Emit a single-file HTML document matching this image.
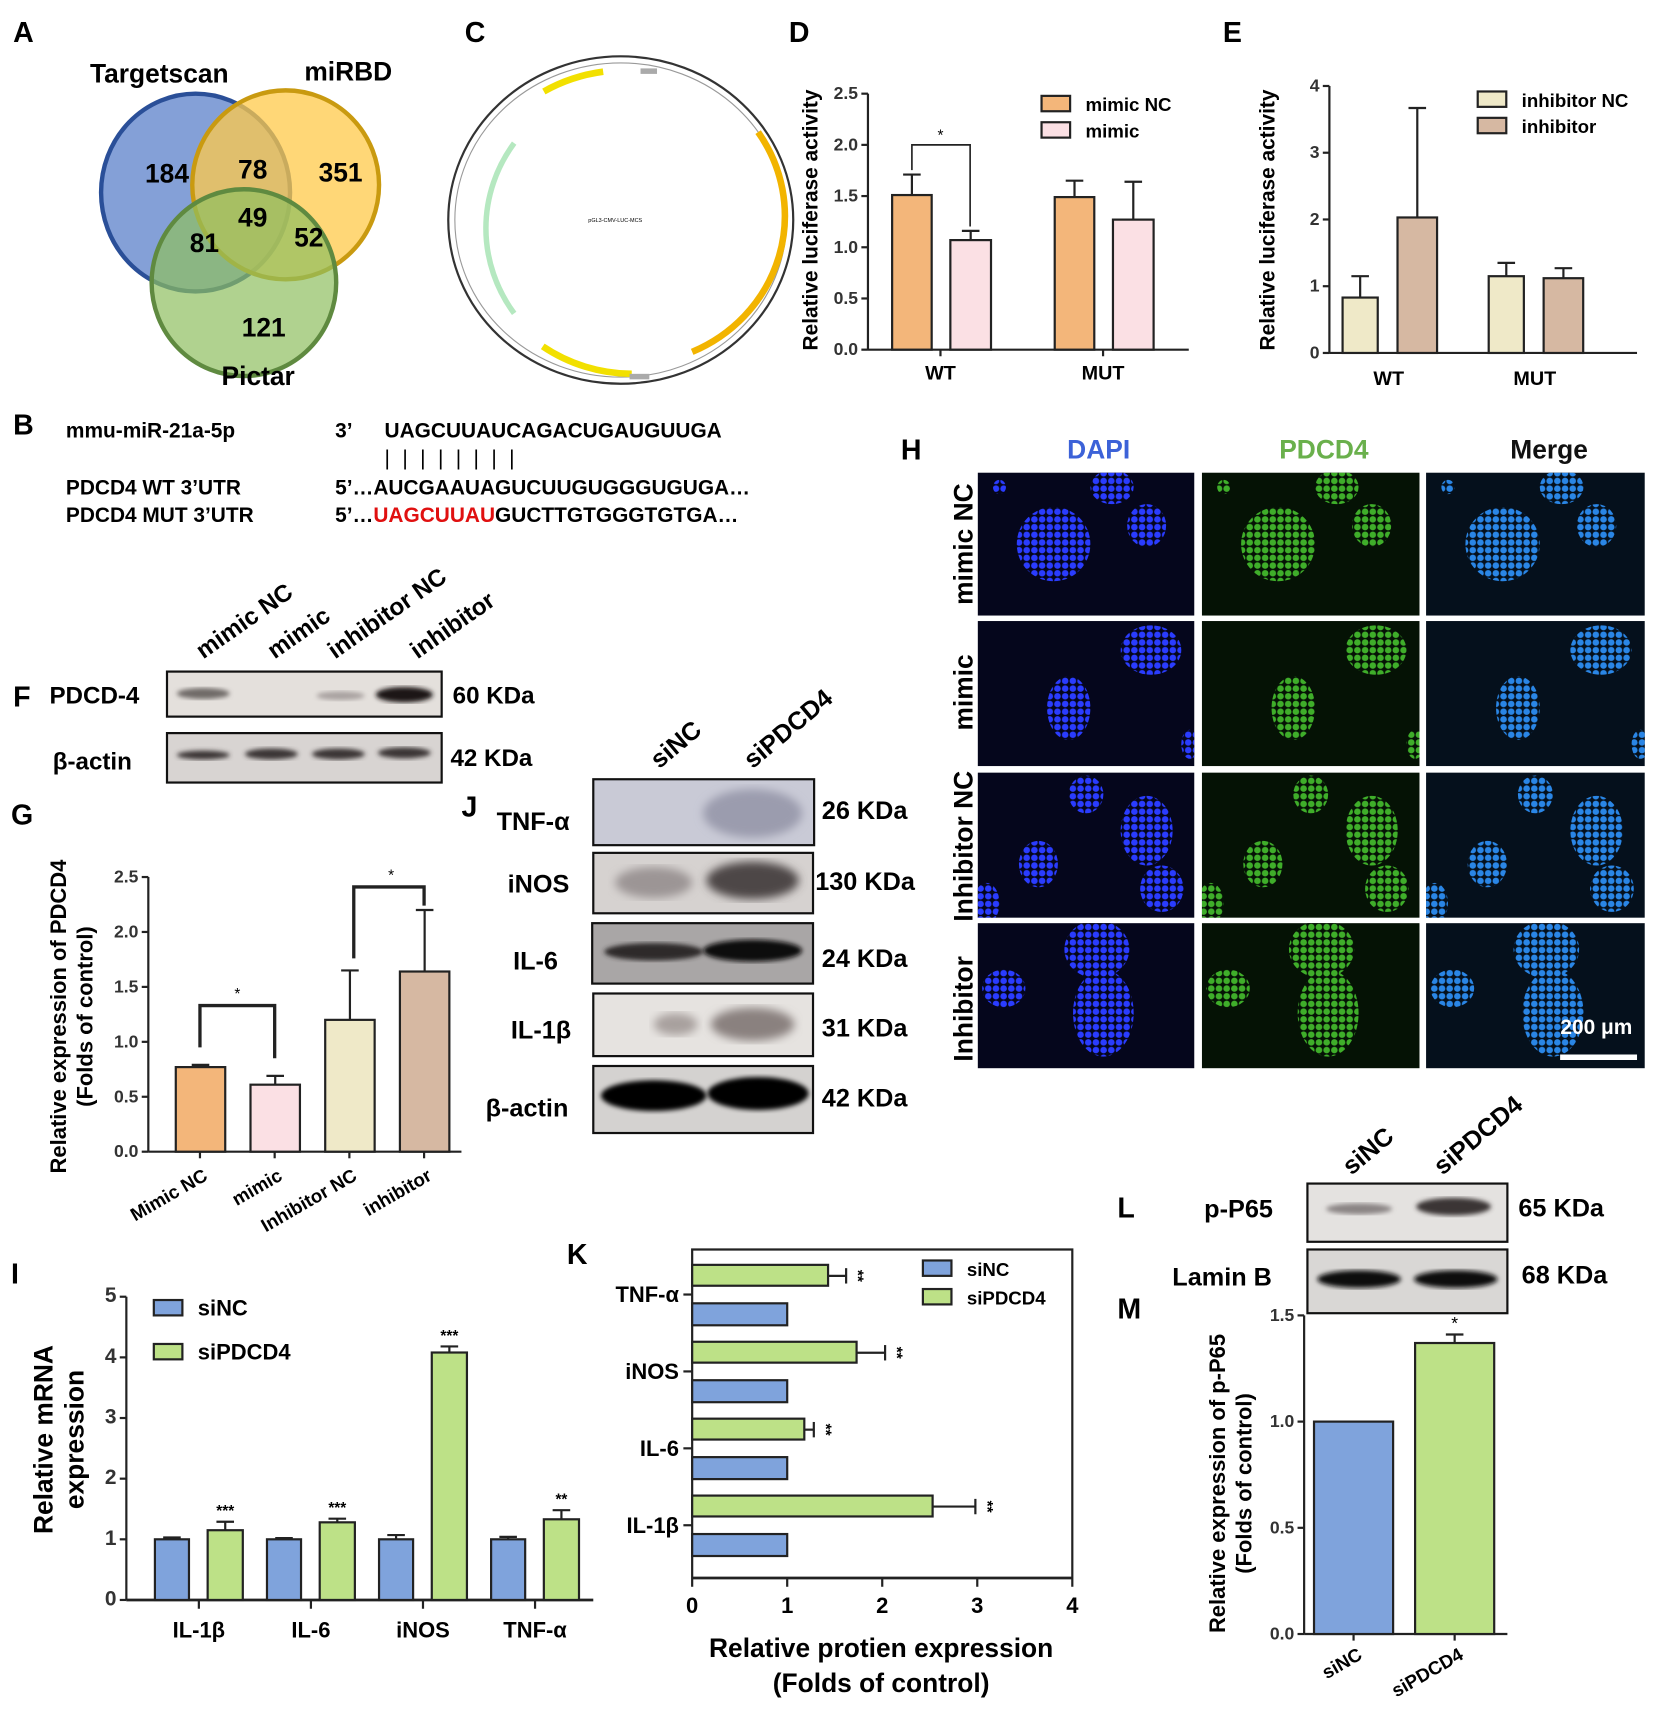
<!DOCTYPE html>
<html><head><meta charset="utf-8">
<style>
html,body{margin:0;padding:0;background:#fff;}
svg{display:block;font-family:"Liberation Sans",Arial,sans-serif;}
.b{font-weight:bold;}
</style></head>
<body>
<svg id="fig" width="1659" height="1720" viewBox="0 0 1510 1565" xmlns="http://www.w3.org/2000/svg">
<defs>
<filter id="blur2"><feGaussianBlur stdDeviation="2.2"/></filter>
<filter id="blur4"><feGaussianBlur stdDeviation="4"/></filter>
<pattern id="pDapi" width="7" height="7" patternUnits="userSpaceOnUse"><rect width="7" height="7" fill="#05061c"/><circle cx="3.5" cy="3.5" r="3" fill="#2a3cff"/></pattern>
<pattern id="pGfp" width="7" height="7" patternUnits="userSpaceOnUse"><rect width="7" height="7" fill="#051205"/><circle cx="3.5" cy="3.5" r="3" fill="#3fae2a"/></pattern>
<pattern id="pMrg" width="7" height="7" patternUnits="userSpaceOnUse"><rect width="7" height="7" fill="#05101c"/><circle cx="3.5" cy="3.5" r="3" fill="#2a86e6"/></pattern>
</defs>

<g class="b" font-size="26">
<text x="12" y="38">A</text><text x="423" y="38">C</text><text x="718" y="38">D</text><text x="1113" y="38">E</text>
<text x="12" y="395">B</text><text x="12" y="643">F</text><text x="10" y="750">G</text><text x="420" y="743">J</text>
<text x="820" y="418">H</text><text x="10" y="1168">I</text><text x="516" y="1150">K</text><text x="1017" y="1108">L</text><text x="1017" y="1200">M</text>
</g>

<g>
<ellipse cx="178" cy="175" rx="86" ry="90" fill="#6f8fd0" fill-opacity="0.85" stroke="#2a4f98" stroke-width="4"/>
<ellipse cx="260" cy="168" rx="85" ry="86" fill="#ffc94a" fill-opacity="0.75" stroke="#c99a10" stroke-width="4"/>
<ellipse cx="222" cy="257" rx="84" ry="85" fill="#8fbf5f" fill-opacity="0.7" stroke="#5f8a40" stroke-width="4"/>
<g class="b" font-size="24" text-anchor="middle">
<text x="145" y="75">Targetscan</text><text x="317" y="73">miRBD</text><text x="235" y="350">Pictar</text>
<text x="152" y="166">184</text><text x="230" y="162">78</text><text x="310" y="165">351</text>
<text x="230" y="206">49</text><text x="186" y="229">81</text><text x="281" y="224">52</text><text x="240" y="306">121</text>
</g></g>

<g>
<ellipse cx="565" cy="200" rx="157" ry="149" fill="none" stroke="#333" stroke-width="2"/>
<ellipse cx="565" cy="200" rx="151" ry="143" fill="none" stroke="#999" stroke-width="1"/>
<path d="M 495 83 A 145 137 0 0 1 549 65" stroke="#f2e000" stroke-width="6" fill="none"/>
<path d="M 690 120 A 140 135 0 0 1 630 320" stroke="#f2b400" stroke-width="6" fill="none"/>
<path d="M 494 315 A 142 135 0 0 0 575 340" stroke="#f2e000" stroke-width="6" fill="none"/>
<path d="M 468 130 A 142 135 0 0 0 468 285" stroke="#b5e8c0" stroke-width="5" fill="none"/>
<rect x="583" y="62" width="15" height="5" fill="#aaa"/><rect x="573" y="340" width="18" height="5" fill="#aaa"/>
<text x="560" y="202" font-size="5" text-anchor="middle">pGL3-CMV-LUC-MCS</text>
</g>

<g class="b" font-size="19">
<text x="60" y="398">mmu-miR-21a-5p</text><text x="305" y="398">3’</text><text x="350" y="398">UAGCUUAUCAGACUGAUGUUGA</text>
<text x="350" y="423" font-weight="normal" letter-spacing="3">| | | | | | | |</text>
<text x="60" y="450">PDCD4   WT   3’UTR</text><text x="305" y="450">5’…AUCGAAUAGUCUUGUGGGUGUGA…</text>
<text x="60" y="475">PDCD4   MUT  3’UTR</text><text x="305" y="475">5’…<tspan fill="#e01010">UAGCUUAU</tspan>GUCTTGTGGGTGTGA…</text>
</g>

<g>
<g class="b" font-size="22">
<text transform="translate(185,600) rotate(-35)">mimic NC</text>
<text transform="translate(250,600) rotate(-35)">mimic</text>
<text transform="translate(305,600) rotate(-35)">inhibitor NC</text>
<text transform="translate(380,600) rotate(-35)">inhibitor</text>
<text x="45" y="640">PDCD-4</text><text x="48" y="700">β-actin</text>
<text x="412" y="640">60 KDa</text><text x="410" y="697">42 KDa</text>
</g>
<rect x="152" y="611" width="250" height="41" fill="#e4e0dc" stroke="#111" stroke-width="2"/>
<ellipse cx="185" cy="631" rx="24" ry="5" fill="#706a68" filter="url(#blur2)"/>
<ellipse cx="310" cy="633" rx="22" ry="4" fill="#a9a2a0" filter="url(#blur2)"/>
<ellipse cx="368" cy="632" rx="26" ry="7" fill="#1a1414" filter="url(#blur2)"/>
<rect x="152" y="667" width="250" height="45" fill="#d8d4d2" stroke="#111" stroke-width="2"/>
<g fill="#3a3434" filter="url(#blur2)"><ellipse cx="185" cy="687" rx="24" ry="4"/><ellipse cx="247" cy="686" rx="24" ry="5"/><ellipse cx="308" cy="686" rx="24" ry="5"/><ellipse cx="368" cy="685" rx="24" ry="5"/></g>
</g>

<g>
<g class="b" font-size="23">
<text transform="translate(600,700) rotate(-40)">siNC</text>
<text transform="translate(685,700) rotate(-40)">siPDCD4</text>
<text x="452" y="755">TNF-α</text><text x="462" y="812">iNOS</text><text x="467" y="882">IL-6</text><text x="465" y="945">IL-1β</text><text x="442" y="1016">β-actin</text>
<text x="748" y="745">26 KDa</text><text x="742" y="810">130 KDa</text><text x="748" y="880">24 KDa</text><text x="748" y="943">31 KDa</text><text x="748" y="1007">42 KDa</text>
</g>
<rect x="540" y="709" width="201" height="60" fill="#c9cad6" stroke="#111" stroke-width="2"/>
<ellipse cx="685" cy="740" rx="45" ry="22" fill="#9b9cae" filter="url(#blur4)"/>
<rect x="540" y="776" width="200" height="55" fill="#d6d2d0" stroke="#111" stroke-width="2"/>
<ellipse cx="595" cy="803" rx="35" ry="14" fill="#9c9595" filter="url(#blur4)"/><ellipse cx="685" cy="801" rx="42" ry="17" fill="#4e4646" filter="url(#blur4)"/>
<rect x="539" y="840" width="201" height="55" fill="#a9a6a6" stroke="#111" stroke-width="2"/>
<ellipse cx="595" cy="866" rx="45" ry="8" fill="#2e2a2a" filter="url(#blur2)"/><ellipse cx="685" cy="865" rx="45" ry="10" fill="#0c0808" filter="url(#blur2)"/>
<rect x="540" y="904" width="200" height="57" fill="#e6e3e0" stroke="#111" stroke-width="2"/>
<ellipse cx="615" cy="932" rx="20" ry="10" fill="#a8a09e" filter="url(#blur4)"/><ellipse cx="685" cy="932" rx="38" ry="15" fill="#8a817f" filter="url(#blur4)"/>
<rect x="540" y="970" width="200" height="61" fill="#d4d2d0" stroke="#111" stroke-width="2"/>
<ellipse cx="595" cy="997" rx="48" ry="14" fill="#050505" filter="url(#blur2)"/><ellipse cx="690" cy="995" rx="46" ry="15" fill="#050505" filter="url(#blur2)"/>
</g>

<g>
<g class="b" font-size="23">
<text transform="translate(1230,1070) rotate(-40)">siNC</text>
<text transform="translate(1313,1070) rotate(-40)">siPDCD4</text>
<text x="1096" y="1108">p-P65</text><text x="1067" y="1170">Lamin B</text>
<text x="1382" y="1107">65 KDa</text><text x="1385" y="1168">68 KDa</text>
</g>
<rect x="1190" y="1077" width="182" height="53" fill="#e4e2e0" stroke="#111" stroke-width="2"/>
<ellipse cx="1237" cy="1100" rx="30" ry="5" fill="#8a8484" filter="url(#blur2)"/><ellipse cx="1323" cy="1098" rx="34" ry="8" fill="#3a3434" filter="url(#blur2)"/>
<rect x="1190" y="1137" width="182" height="58" fill="#d9d7d5" stroke="#111" stroke-width="2"/>
<ellipse cx="1237" cy="1164" rx="38" ry="8" fill="#111" filter="url(#blur2)"/><ellipse cx="1325" cy="1164" rx="38" ry="8" fill="#111" filter="url(#blur2)"/>
</g>

<g id="micro">
<g class="b" font-size="24" text-anchor="middle">
<text x="1000" y="417" fill="#3c62d8">DAPI</text><text x="1205" y="417" fill="#6ab04c">PDCD4</text><text x="1410" y="417" fill="#111">Merge</text>
<text transform="translate(885,495) rotate(-90)">mimic NC</text>
<text transform="translate(885,630) rotate(-90)">mimic</text>
<text transform="translate(885,770) rotate(-90)">Inhibitor NC</text>
<text transform="translate(885,918) rotate(-90)">Inhibitor</text>
</g>
</g>

<g id="charts"></g>
</svg>

<script>
const dGroups = ["WT","MUT"];
const dMimicNC = [1.51, 1.49];
const dMimicNCErr = [1.71, 1.65];
const dMimic = [1.07, 1.27];
const dMimicErr = [1.16, 1.64];
const dTicks = [0,0.5,1.0,1.5,2.0,2.5];

const eGroups = ["WT","MUT"];
const eInhNC = [0.83, 1.15];
const eInhNCErr = [1.15, 1.35];
const eInh = [2.03, 1.12];
const eInhErr = [3.67, 1.27];
const eTicks = [0,1,2,3,4];

const gCats = ["Mimic NC","mimic","Inhibitor NC","inhibitor"];
const gVals = [0.77, 0.61, 1.2, 1.64];
const gErr = [0.79, 0.69, 1.65, 2.2];
const gTicks = [0,0.5,1.0,1.5,2.0,2.5];

const iCats = ["IL-1β","IL-6","iNOS","TNF-α"];
const iSiNC = [1.0, 1.0, 1.0, 1.0];
const iSiNCErr = [1.03, 1.02, 1.07, 1.04];
const iSiP = [1.15, 1.28, 4.08, 1.33];
const iSiPErr = [1.29, 1.34, 4.18, 1.48];
const iStars = ["***","***","***","**"];
const iTicks = [0,1,2,3,4,5];

const kCats = ["TNF-α","iNOS","IL-6","IL-1β"];
const kSiNC = [1.0, 1.0, 1.0, 1.0];
const kSiP = [1.43, 1.73, 1.18, 2.53];
const kSiPErr = [1.62, 2.03, 1.28, 2.98];
const kTicks = [0,1,2,3,4];

const mCats = ["siNC","siPDCD4"];
const mVals = [1.0, 1.37];
const mErr = [1.0, 1.41];
const mTicks = [0,0.5,1.0,1.5];

const NS="http://www.w3.org/2000/svg";
const root=document.getElementById('charts');
function mk(tag,attrs,parent,txt){const e=document.createElementNS(NS,tag);for(const k in attrs)e.setAttribute(k,attrs[k]);if(txt!==undefined)e.textContent=txt;(parent||root).appendChild(e);return e;}
function grp(name){const g=mk('g',{});


return g;}
function lin(v,d0,d1,r0,r1){return r0+(v-d0)/(d1-d0)*(r1-r0);}

function vAxis(g,x,y0,y1,ticks,max,fs,fmt){
  mk('line',{x1:x,y1:y0,x2:x,y2:y1,stroke:'#222','stroke-width':2},g);
  ticks.forEach(t=>{const y=lin(t,0,max,y0,y1);
    mk('line',{x1:x-6,y1:y,x2:x,y2:y,stroke:'#222','stroke-width':2},g);
    const tx=mk('text',{x:x-9,y:y+5,'font-size':fs,'text-anchor':'end','font-weight':'bold',fill:'#333'},g,fmt?t.toFixed(1):t);
    
    
  });
}
function vbar(g,x,w,v,err,y0,y1,max,fill,name){
  const y=lin(v,0,max,y0,y1);
  const r=mk('rect',{x:x,y:y,width:w,height:y0-y,fill:fill,stroke:'#222','stroke-width':2},g);
  
  
  if(err!==null){const ye=lin(err,0,max,y0,y1);
    mk('line',{x1:x+w/2,y1:y,x2:x+w/2,y2:ye,stroke:'#222','stroke-width':2},g);
    mk('line',{x1:x+w/2-8,y1:ye,x2:x+w/2+8,y2:ye,stroke:'#222','stroke-width':2},g);}
  return y;
}
function legend(g,x,y,fill,label,fs){
  const r=mk('rect',{x:x,y:y-10,width:26,height:14,fill:fill,stroke:'#222','stroke-width':2},g);
  
  
  const t=mk('text',{x:x+40,y:y+4,'font-size':fs,'font-weight':'bold'},g,label);
  
  
}
function ylabel(g,x,y,lines,fs){
  lines.forEach((l,i)=>{const t=mk('text',{transform:`translate(${x+i*(fs+4)},${y}) rotate(-90)`,'font-size':fs,'font-weight':'bold','text-anchor':'middle'},g,l);
    
    });
}

(function(){const g=grp('chart-d');const X=790,Y0=318,Y1=85,M=2.5;
 vAxis(g,X,Y0,Y1,dTicks,M,16,true);
 mk('line',{x1:X,y1:Y0,x2:1082,y2:Y0,stroke:'#222','stroke-width':2},g);
 const gx=[812,960];
 dGroups.forEach((c,i)=>{
   vbar(g,gx[i],36,dMimicNC[i],dMimicNCErr[i],Y0,Y1,M,'#f3b67a','bar-mimic-nc');
   vbar(g,gx[i]+53,37,dMimic[i],dMimicErr[i],Y0,Y1,M,'#fbe0e4','bar-mimic');
   mk('line',{x1:gx[i]+44,y1:Y0,x2:gx[i]+44,y2:Y0+6,stroke:'#222','stroke-width':2},g);
   const t=mk('text',{x:gx[i]+44,y:345,'font-size':18,'font-weight':'bold','text-anchor':'middle'},g,c);
   
   
 });
 const ya=lin(dMimicNCErr[0],0,M,Y0,Y1), yb=lin(dMimicErr[0],0,M,Y0,Y1), yt=lin(2.0,0,M,Y0,Y1);
 mk('path',{d:`M830 ${ya-4} V${yt} H883 V${yb-4}`,fill:'none',stroke:'#222','stroke-width':1.5},g);
 mk('text',{x:856,y:yt-4,'font-size':14,'text-anchor':'middle'},g,'*');
 legend(g,948,97,'#f3b67a','mimic NC',17);legend(g,948,121,'#fbe0e4','mimic',17);
 ylabel(g,744,200,['Relative luciferase activity'],19);
})();

(function(){const g=grp('chart-e');const X=1210,Y0=321,Y1=78,M=4;
 vAxis(g,X,Y0,Y1,eTicks,M,16,false);
 mk('line',{x1:X,y1:Y0,x2:1490,y2:Y0,stroke:'#222','stroke-width':2},g);
 const gx=[1222,1355];
 eGroups.forEach((c,i)=>{
   vbar(g,gx[i],32,eInhNC[i],eInhNCErr[i],Y0,Y1,M,'#efe9c8','bar-inhibitor-nc');
   vbar(g,gx[i]+50,36,eInh[i],eInhErr[i],Y0,Y1,M,'#d6b8a2','bar-inhibitor');
   const t=mk('text',{x:gx[i]+42,y:350,'font-size':18,'font-weight':'bold','text-anchor':'middle'},g,c);
   
   
 });
 legend(g,1345,93,'#efe9c8','inhibitor NC',17);legend(g,1345,117,'#d6b8a2','inhibitor',17);
 ylabel(g,1160,200,['Relative luciferase activity'],19);
})();

(function(){const g=grp('chart-g');const X=135,Y0=1048,Y1=798,M=2.5;
 vAxis(g,X,Y0,Y1,gTicks,M,16,true);
 mk('line',{x1:X,y1:Y0,x2:420,y2:Y0,stroke:'#222','stroke-width':2},g);
 const fills=['#f3b67a','#fbe0e4','#efe9c8','#d6b8a2'];
 gCats.forEach((c,i)=>{const x=160+i*68;
   vbar(g,x,45,gVals[i],gErr[i],Y0,Y1,M,fills[i],'bar-'+i);
   mk('line',{x1:x+22,y1:Y0,x2:x+22,y2:Y0+6,stroke:'#222','stroke-width':2},g);
   const t=mk('text',{transform:`translate(${x+30},${Y0+25}) rotate(-30)`,'font-size':17,'font-weight':'bold','text-anchor':'end'},g,c);
   
   
 });
 const y=(v)=>lin(v,0,M,Y0,Y1);
 mk('path',{d:`M182 ${y(0.95)} V${y(1.33)} H250 V${y(0.85)}`,fill:'none',stroke:'#222','stroke-width':3},g);
 mk('text',{x:216,y:y(1.33)-6,'font-size':14,'text-anchor':'middle'},g,'*');
 mk('path',{d:`M322 ${y(1.76)} V${y(2.41)} H386 V${y(2.24)}`,fill:'none',stroke:'#222','stroke-width':3},g);
 mk('text',{x:356,y:y(2.41)-6,'font-size':14,'text-anchor':'middle'},g,'*');
 ylabel(g,60,925,['Relative expression of PDCD4','(Folds of control)'],20);
})();

(function(){const g=grp('chart-i');const X=115,Y0=1456,Y1=1180,M=5;
 vAxis(g,X,Y0,Y1,iTicks,M,19,false);
 mk('line',{x1:X,y1:Y0,x2:540,y2:Y0,stroke:'#222','stroke-width':2.5},g);
 iCats.forEach((c,i)=>{const x=141+i*102;
   vbar(g,x,31,iSiNC[i],iSiNCErr[i],Y0,Y1,M,'#7fa3dc','bar-sinc');
   vbar(g,x+48,32,iSiP[i],iSiPErr[i],Y0,Y1,M,'#bde187','bar-sipdcd4');
   const ye=lin(iSiPErr[i],0,M,Y0,Y1);
   mk('text',{x:x+64,y:ye-5,'font-size':14,'text-anchor':'middle','font-weight':'bold'},g,iStars[i]);
   mk('line',{x1:x+40,y1:Y0,x2:x+40,y2:Y0+8,stroke:'#222','stroke-width':2},g);
   const t=mk('text',{x:x+40,y:1490,'font-size':20,'font-weight':'bold','text-anchor':'middle'},g,c);
   
   
 });
 legend(g,140,1193,'#7fa3dc','siNC',20);legend(g,140,1233,'#bde187','siPDCD4',20);
 ylabel(g,48,1310,['Relative mRNA','expression'],24);
})();

(function(){const g=grp('chart-k');const X0=630,X1=976,YT=1137,YB=1436,M=4;
 mk('path',{d:`M${X0} ${YB} V${YT} H${X1} V${YB}`,fill:'none',stroke:'#222','stroke-width':2},g);
 mk('line',{x1:X0,y1:YB,x2:X1,y2:YB,stroke:'#222','stroke-width':2.5},g);
 kTicks.forEach(t=>{const x=lin(t,0,M,X0,X1);
   mk('line',{x1:x,y1:YB,x2:x,y2:YB+8,stroke:'#222','stroke-width':2},g);
   const tx=mk('text',{x:x,y:YB+32,'font-size':20,'font-weight':'bold','text-anchor':'middle'},g,t);
   
   });
 const xs=v=>lin(v,0,M,X0,X1);
 kCats.forEach((c,i)=>{const yc=1178+i*70;
   const r1=mk('rect',{x:X0,y:yc-27,width:xs(kSiP[i])-X0,height:19,fill:'#bde187',stroke:'#222','stroke-width':2},g);
   
   
   const xe=xs(kSiPErr[i]);
   mk('line',{x1:xs(kSiP[i]),y1:yc-17,x2:xe,y2:yc-17,stroke:'#222','stroke-width':2},g);
   mk('line',{x1:xe,y1:yc-24,x2:xe,y2:yc-10,stroke:'#222','stroke-width':2},g);
   mk('text',{transform:`translate(${xe+6},${yc-17}) rotate(90)`,'font-size':14,'font-weight':'bold','text-anchor':'middle'},g,'**');
   const r2=mk('rect',{x:X0,y:yc+8,width:xs(kSiNC[i])-X0,height:20,fill:'#7fa3dc',stroke:'#222','stroke-width':2},g);
   
   
   mk('line',{x1:X0-8,y1:yc,x2:X0,y2:yc,stroke:'#222','stroke-width':2},g);
   const t=mk('text',{x:X0-12,y:yc+7,'font-size':20,'font-weight':'bold','text-anchor':'end'},g,c);
   
   
 });
 legend(g,840,1157,'#7fa3dc','siNC',17);legend(g,840,1183,'#bde187','siPDCD4',17);
 const a=mk('text',{x:802,y:1508,'font-size':24,'font-weight':'bold','text-anchor':'middle'},g,'Relative protien expression');
 
 
 mk('text',{x:802,y:1540,'font-size':24,'font-weight':'bold','text-anchor':'middle'},g,'(Folds of control)');
})();

(function(){const g=grp('chart-m');const X=1187,Y0=1487,Y1=1197,M=1.5;
 vAxis(g,X,Y0,Y1,mTicks,M,16,true);
 mk('line',{x1:X,y1:Y0,x2:1372,y2:Y0,stroke:'#222','stroke-width':2},g);
 const fills=['#7fa3dc','#bde187'];
 mCats.forEach((c,i)=>{const x=1196+i*92;
   vbar(g,x,72,mVals[i],i?mErr[i]:null,Y0,Y1,M,fills[i],'bar-'+c);
   mk('line',{x1:x+36,y1:Y0,x2:x+36,y2:Y0+6,stroke:'#222','stroke-width':2},g);
   const t=mk('text',{transform:`translate(${x+45},${Y0+22}) rotate(-30)`,'font-size':17,'font-weight':'bold','text-anchor':'end'},g,c);
   
   
 });
 mk('text',{x:1324,y:lin(mErr[1],0,M,Y0,Y1)-5,'font-size':16,'text-anchor':'middle'},g,'*');
 ylabel(g,1115,1350,['Relative expression of p-P65','(Folds of control)'],20);
})();

const microRows=[
 [[0.35,0.5,0.17,0.26],[0.62,0.1,0.1,0.12],[0.78,0.37,0.09,0.15],[0.1,0.1,0.03,0.05]],
 [[0.8,0.2,0.14,0.17],[0.42,0.6,0.1,0.22],[0.98,0.85,0.04,0.1]],
 [[0.5,0.15,0.08,0.13],[0.78,0.4,0.12,0.24],[0.28,0.63,0.09,0.16],[0.85,0.8,0.1,0.16],[0.04,0.9,0.06,0.14]],
 [[0.55,0.18,0.15,0.2],[0.12,0.45,0.1,0.13],[0.58,0.62,0.14,0.3]]
];
(function(){const g=document.getElementById('micro');
 const cx=[890,1094,1298],cw=[197,198,199],ry=[430,565,703,840],rh=[130,132,132,132];
 const pats=['url(#pDapi)','url(#pGfp)','url(#pMrg)'],bgs=['#05061c','#051205','#05101c'];
 ry.forEach((y,r)=>cx.forEach((x,c)=>{
   const p=mk('g',{},g);
   
   
   mk('rect',{x:x,y:y,width:cw[c],height:rh[r],fill:bgs[c]},p);
   mk('clipPath',{id:`cp${r}${c}`},p).appendChild(mk('rect',{x:x,y:y,width:cw[c],height:rh[r]},p));
   const cg=mk('g',{'clip-path':`url(#cp${r}${c})`},p);
   microRows[r].forEach(k=>mk('ellipse',{cx:x+k[0]*cw[c],cy:y+k[1]*rh[r],rx:k[2]*cw[c],ry:k[3]*rh[r],fill:pats[c]},cg));
 }));
 mk('line',{x1:1420,y1:962,x2:1490,y2:962,stroke:'#fff','stroke-width':5},g);
 mk('text',{x:1453,y:941,'font-size':19,'font-weight':'bold',fill:'#fff','text-anchor':'middle'},g,'200 μm');
})();
</script>
</body></html>
